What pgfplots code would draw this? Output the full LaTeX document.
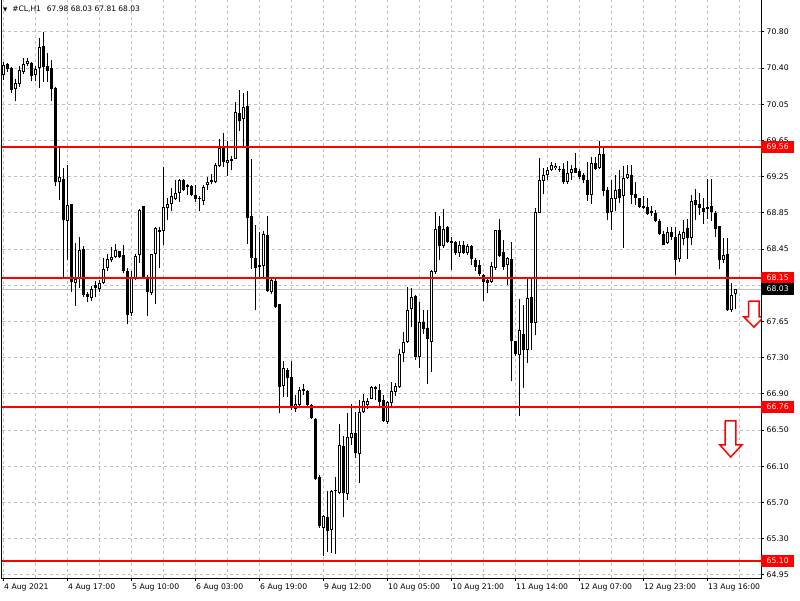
\documentclass[border=0pt]{standalone}
\usepackage{fontspec}
\setmainfont{DejaVu Sans}
\usepackage{pgfplots}
\usepackage{pgfplotstable}
\pgfplotsset{compat=1.18}

\definecolor{gridgray}{RGB}{192,192,192}

% hourly bars, #CL H1, 4-13 Aug 2021
\pgfplotstableread{
i o h l c
0 70.34 70.48 70.28 70.44
1 70.46 70.47 70.37 70.40
2 70.41 70.42 70.14 70.18
3 70.19 70.29 70.06 70.25
4 70.24 70.43 70.21 70.39
5 70.37 70.52 70.35 70.45
6 70.46 70.52 70.43 70.49
7 70.47 70.48 70.27 70.33
8 70.34 70.43 70.27 70.40
9 70.41 70.74 70.20 70.64
10 70.65 70.80 70.26 70.42
11 70.43 70.57 70.26 70.38
12 70.41 70.50 70.06 70.19
13 70.20 70.21 69.14 69.18
14 69.18 69.56 68.99 69.24
15 69.22 69.33 68.16 68.77
16 68.76 69.37 68.34 68.94
17 68.95 68.95 68.00 68.11
18 68.10 68.53 67.85 68.14
19 68.15 68.59 68.04 68.45
20 68.46 68.49 67.94 67.97
21 67.98 68.00 67.89 67.94
22 67.93 68.06 67.90 68.03
23 68.07 68.12 67.94 68.04
24 68.03 68.13 68.00 68.10
25 68.10 68.36 68.08 68.25
26 68.26 68.41 68.22 68.35
27 68.34 68.48 68.32 68.38
28 68.38 68.52 68.36 68.45
29 68.44 68.44 68.37 68.38
30 68.40 68.51 68.20 68.22
31 68.22 68.26 67.65 67.75
32 67.77 68.22 67.74 68.15
33 68.14 68.41 68.13 68.39
34 68.40 68.89 68.31 68.88
35 68.92 68.93 68.15 68.16
36 68.16 68.18 67.74 68.00
37 67.99 68.41 67.97 68.41
38 68.41 68.70 67.87 68.69
39 68.67 68.70 68.26 68.65
40 68.66 69.34 68.50 68.91
41 68.90 69.01 68.77 68.95
42 68.95 69.12 68.87 69.03
43 69.00 69.21 68.99 69.07
44 69.07 69.22 68.97 69.21
45 69.21 69.22 69.09 69.10
46 69.15 69.16 69.04 69.13
47 69.14 69.15 69.03 69.04
48 69.04 69.15 68.97 69.00
49 69.00 69.03 68.87 69.00
50 68.98 69.15 68.94 69.13
51 69.15 69.24 69.10 69.18
52 69.18 69.27 69.16 69.20
53 69.18 69.39 69.17 69.37
54 69.36 69.65 69.34 69.55
55 69.55 69.71 69.34 69.40
56 69.39 69.63 69.25 69.42
57 69.41 69.46 69.31 69.43
58 69.43 70.05 69.43 69.94
59 69.93 70.17 69.73 69.84
60 69.86 70.14 69.56 69.99
61 70.00 70.16 68.52 68.80
62 68.82 69.43 68.25 68.37
63 68.37 68.72 67.80 68.26
64 68.27 68.65 68.16 68.29
65 68.28 68.66 68.16 68.62
66 68.61 68.82 68.00 68.01
67 68.00 68.15 67.98 68.13
68 68.12 68.14 67.83 67.84
69 67.87 67.87 66.69 66.97
70 66.99 67.26 66.87 67.18
71 67.16 67.18 66.87 67.07
72 67.08 67.26 66.73 66.76
73 66.74 66.89 66.70 66.79
74 66.78 66.97 66.77 66.94
75 66.95 67.01 66.89 66.93
76 66.93 66.94 66.77 66.78
77 66.78 66.79 66.63 66.64
78 66.63 66.64 65.97 65.98
79 66.00 66.03 65.45 65.48
80 65.46 65.60 65.15 65.58
81 65.57 65.85 65.20 65.42
82 65.43 65.87 65.19 65.85
83 65.85 66.00 65.18 65.86
84 65.83 66.58 65.82 66.35
85 66.34 66.45 65.57 65.83
86 65.82 66.69 65.76 66.44
87 66.42 66.79 66.35 66.48
88 66.48 66.71 66.21 66.26
89 66.25 66.83 65.94 66.70
90 66.70 66.90 66.69 66.82
91 66.78 66.86 66.74 66.82
92 66.85 66.98 66.84 66.97
93 66.97 66.98 66.83 66.95
94 66.94 67.01 66.76 66.81
95 66.83 66.89 66.60 66.61
96 66.60 66.82 66.58 66.81
97 66.80 67.03 66.76 66.93
98 66.92 67.02 66.88 66.98
99 66.97 67.38 66.96 67.33
100 67.34 67.57 67.24 67.46
101 67.46 68.05 67.45 67.80
102 67.81 68.04 67.62 67.94
103 67.96 67.97 67.27 67.30
104 67.30 67.89 67.18 67.67
105 67.68 67.80 67.55 67.60
106 67.61 67.80 67.01 67.49
107 67.46 68.23 67.14 68.22
108 68.21 68.86 68.19 68.68
109 68.71 68.82 68.34 68.49
110 68.49 68.89 68.47 68.68
111 68.70 68.71 68.53 68.54
112 68.55 68.59 68.23 68.53
113 68.54 68.55 68.40 68.42
114 68.42 68.55 68.38 68.51
115 68.51 68.55 68.41 68.42
116 68.42 68.52 68.40 68.49
117 68.49 68.50 68.29 68.35
118 68.34 68.36 68.22 68.27
119 68.29 68.34 68.17 68.19
120 68.18 68.19 67.90 68.11
121 68.13 68.14 67.99 68.10
122 68.11 68.32 68.09 68.28
123 68.26 68.67 68.24 68.67
124 68.67 68.78 68.38 68.39
125 68.43 68.56 68.24 68.27
126 68.29 68.38 68.07 68.36
127 68.35 68.54 67.04 67.47
128 67.47 67.47 67.31 67.33
129 67.32 67.92 66.66 67.59
130 67.55 67.86 66.96 67.37
131 67.37 68.15 67.23 67.93
132 67.94 68.15 67.37 67.66
133 67.66 68.90 67.53 68.86
134 68.85 69.44 68.85 69.21
135 69.19 69.33 69.05 69.26
136 69.26 69.35 69.21 69.31
137 69.31 69.40 69.30 69.37
138 69.33 69.39 69.31 69.36
139 69.32 69.36 69.29 69.31
140 69.32 69.39 69.16 69.18
141 69.18 69.41 69.16 69.28
142 69.28 69.37 69.21 69.32
143 69.33 69.50 69.28 69.28
144 69.30 69.32 69.22 69.24
145 69.26 69.28 69.17 69.20
146 69.20 69.40 68.98 69.04
147 69.04 69.45 68.95 69.39
148 69.39 69.45 69.31 69.32
149 69.33 69.63 69.32 69.49
150 69.49 69.55 69.03 69.09
151 69.10 69.13 68.77 68.85
152 68.86 69.21 68.67 69.01
153 69.00 69.26 68.87 69.10
154 69.11 69.31 68.96 69.01
155 69.03 69.36 68.47 69.23
156 69.23 69.37 69.22 69.27
157 69.26 69.37 68.95 69.04
158 69.05 69.18 68.94 69.01
159 69.01 69.01 68.90 68.91
160 68.92 69.03 68.89 68.90
161 68.91 69.01 68.83 68.84
162 68.87 68.92 68.82 68.85
163 68.85 68.88 68.75 68.76
164 68.76 68.79 68.61 68.62
165 68.62 68.66 68.50 68.51
166 68.53 68.70 68.52 68.65
167 68.65 68.70 68.56 68.59
168 68.59 68.70 68.18 68.34
169 68.35 68.66 68.32 68.62
170 68.57 68.77 68.50 68.65
171 68.69 68.78 68.35 68.58
172 68.58 69.04 68.51 68.98
173 68.99 69.11 68.77 68.94
174 68.95 69.06 68.83 68.90
175 68.90 69.01 68.73 68.86
176 68.89 69.22 68.79 68.91
177 68.92 69.22 68.76 68.86
178 68.85 68.87 68.59 68.68
179 68.71 68.71 68.25 68.34
180 68.34 68.58 68.31 68.40
181 68.41 68.58 67.79 67.80
182 67.80 68.09 67.78 67.97
183 67.98 68.03 67.81 68.03
}\bars

\begin{document}
\begin{tikzpicture}[font=\fontsize{7.7}{9}\selectfont]
\path[use as bounding box, fill=white] (0,0) rectangle (800pt,600pt);
\begin{axis}[
    at={(2pt,22pt)}, anchor=south west,
    scale only axis, width=759pt, height=578pt,
    xmin=-0.375, xmax=189.375,
    ymin=64.9164, ymax=71.1448,
    clip mode=individual,
    axis line style={black, line width=1pt},
    xtick pos=bottom, ytick pos=right,
    yticklabel pos=right,
    tick align=outside,
    major tick length=3pt, minor tick length=0pt,
    tick style={black, line width=1pt},
    xtick={0,16,...,176},
    xticklabels={4 Aug 2021,4 Aug 17:00,5 Aug 10:00,6 Aug 03:00,6 Aug 19:00,9 Aug 12:00,10 Aug 05:00,10 Aug 21:00,11 Aug 14:00,12 Aug 07:00,12 Aug 23:00,13 Aug 16:00},
    minor xtick={8,24,...,184},
    ytick={70.80,70.41,70.02,69.63,69.24,68.85,68.46,68.07,67.68,67.29,66.90,66.51,66.12,65.73,65.34,64.95},
    % the 68.05 label sits under the bid tag and is not shown
    yticklabels={70.80,70.40,70.05,69.65,69.25,68.85,68.45,,67.65,67.30,66.90,66.50,66.10,65.70,65.30,64.95},
    grid=both,
    major grid style={gridgray, dash pattern=on 3pt off 3pt, line width=1pt},
    minor grid style={gridgray, dash pattern=on 3pt off 3pt, line width=1pt},
    xticklabel style={anchor=north west, inner sep=0pt, xshift=0.5pt, yshift=-3pt},
    yticklabel style={anchor=west, inner sep=0pt, xshift=2.5pt},
]
% bid line
\addplot[gridgray, line width=1pt, forget plot] coordinates {(-1,68.03) (190,68.03)};

% wicks
\addplot[draw=none, mark=none, forget plot,
    error bars/.cd, y dir=plus, y explicit, error mark=none,
    error bar style={draw=black, line width=1pt, solid}]
    table[x=i, y=l, y error plus expr={\thisrow{h}-\thisrow{l}}] {\bars};
% bodies
\addplot[draw=none, mark=none, forget plot,
    error bars/.cd, y dir=plus, y explicit, error mark=none,
    error bar style={draw=black, line width=3pt, solid}]
    table[x=i, y expr={min(\thisrow{o},\thisrow{c})},
          y error plus expr={max(abs(\thisrow{c}-\thisrow{o}),0.011)}] {\bars};
% hollow inside of rising bars
\addplot[draw=none, mark=none, forget plot,
    error bars/.cd, y dir=plus, y explicit, error mark=none,
    error bar style={draw=white, line width=1pt, solid}]
    table[x=i, y expr={\thisrow{c}-\thisrow{o}>0.025 ? \thisrow{o}+0.0108 : nan},
          y error plus expr={abs(\thisrow{c}-\thisrow{o})-0.0216}] {\bars};

% levels
\addplot[red, line width=2pt, forget plot] coordinates {(-1,69.56) (190,69.56)};
\addplot[red, line width=2pt, forget plot] coordinates {(-1,68.15) (190,68.15)};
\addplot[red, line width=2pt, forget plot] coordinates {(-1,66.76) (190,66.76)};
\addplot[red, line width=2pt, forget plot] coordinates {(-1,65.10) (190,65.10)};

% down arrows
\addplot[draw=red, fill=white, line width=1.5pt, line join=miter, forget plot] coordinates {
    (180.4,66.61) (183.1,66.61) (183.1,66.35) (184.6,66.35) (181.8,66.22)
    (179.1,66.35) (180.4,66.35) (180.4,66.61)};
\addplot[draw=red, fill=white, line width=1.5pt, line join=miter, forget plot] coordinates {
    (186.25,67.90) (188.9,67.90) (188.9,67.73) (190.1,67.73) (187.6,67.62)
    (185.1,67.73) (186.25,67.73) (186.25,67.90)};

% price tags on the right
\node[fill=red, text=white, anchor=west, inner sep=0pt, minimum width=33pt, minimum height=12pt]
    at (axis cs:189.375,69.56) {69.56};
\node[fill=red, text=white, anchor=west, inner sep=0pt, minimum width=33pt, minimum height=12pt]
    at (axis cs:189.375,68.15) {68.15};
\node[fill=black, text=white, anchor=west, inner sep=0pt, minimum width=33pt, minimum height=12pt]
    at (axis cs:189.375,68.03) {68.03};
\node[fill=red, text=white, anchor=west, inner sep=0pt, minimum width=33pt, minimum height=12pt]
    at (axis cs:189.375,66.76) {66.76};
\node[fill=red, text=white, anchor=west, inner sep=0pt, minimum width=33pt, minimum height=12pt]
    at (axis cs:189.375,65.10) {65.10};
\end{axis}
\node[anchor=west, inner sep=0pt, font=\fontsize{7.5}{8}\selectfont] at (3pt,591pt)
    {{\fontsize{5.5}{6}\selectfont ▼}\hspace{5pt}\#CL,H1\hspace{6pt}67.98 68.03 67.81 68.03};
\end{tikzpicture}
\end{document}
